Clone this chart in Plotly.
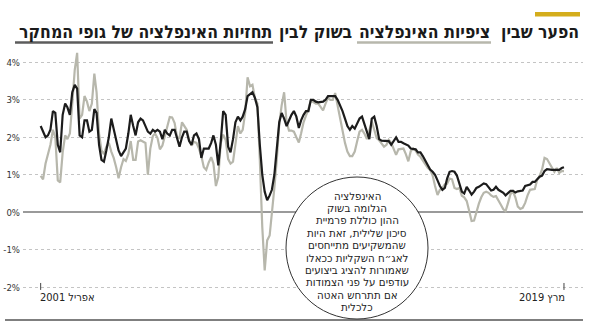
import pandas as pd
import plotly.graph_objects as go

# Monthly series, April 2001 - March 2019 (percent)
months = pd.date_range("2001-04-01", periods=216, freq="MS")

research_forecasts = [
    2.3, 2.15, 2.0, 2.05, 2.2, 2.7, 2.65, 1.8, 1.6, 2.6,
    2.9, 2.8, 2.6, 3.2, 3.4, 3.3, 2.05, 2.0, 2.45, 2.45,
    2.15, 2.2, 2.75, 2.65, 1.8, 1.4, 1.35, 1.65, 2.0, 2.5,
    2.2, 1.9, 1.65, 1.5, 1.6, 1.7, 2.1, 2.6, 2.3, 2.05,
    2.4, 2.5, 2.45, 2.3, 2.15, 2.1, 2.2, 2.15, 2.2, 2.15,
    1.95, 2.2, 2.1, 2.05, 2.2, 2.2, 1.95, 1.75, 2.0, 2.15,
    2.15, 1.9, 1.8, 2.05, 2.1, 1.95, 1.45, 1.7, 1.7, 1.7,
    1.85, 2.05, 1.8, 1.25, 1.9, 2.7, 2.6, 1.75, 1.6, 1.95,
    2.4, 2.55, 2.45, 2.55, 2.75, 3.1, 3.15, 3.2, 3.05, 2.8,
    1.8, 1.0, 0.55, 0.32, 0.45, 0.6, 1.0, 1.6, 2.4, 2.65,
    2.5, 2.3, 2.45, 2.6, 2.7, 2.55, 2.25, 2.45, 2.6, 2.7,
    2.7, 3.0, 3.0, 2.95, 2.93, 2.93, 2.95, 3.0, 3.1, 3.1,
    3.1, 3.1, 3.0, 2.87, 2.7, 2.5, 2.3, 2.2, 2.3, 2.23,
    2.35, 2.5, 2.55, 2.35, 2.15, 1.95, 2.5, 2.55, 2.3, 1.95,
    1.91, 1.91, 1.91, 1.9, 1.8, 1.9, 2.0, 1.88, 1.88, 1.84,
    1.8, 1.78, 1.7, 1.7, 1.68, 1.6, 1.6, 1.5, 1.38, 1.28,
    1.14, 1.08, 1.0, 0.85, 0.7, 0.6, 0.65, 0.9, 1.08, 1.1,
    1.08, 0.98, 0.77, 0.55, 0.5, 0.68, 0.58, 0.47, 0.55, 0.65,
    0.68, 0.72, 0.77, 0.75, 0.65, 0.58, 0.6, 0.68, 0.6, 0.57,
    0.52, 0.45, 0.52, 0.57, 0.57, 0.53, 0.56, 0.58, 0.58, 0.7,
    0.72, 0.74, 0.81, 0.81, 0.88, 0.95, 0.98, 1.1, 1.15, 1.13,
    1.13, 1.13, 1.13, 1.13, 1.18, 1.2,
]

market_expectations = [
    0.97, 0.88, 1.3, 1.55, 1.8, 2.2, 2.0, 0.85, 0.8, 1.6,
    2.05, 1.95, 2.1, 2.9, 3.8, 4.25, 2.5, 2.6, 3.1, 2.95,
    2.7, 2.9, 3.7, 3.2, 2.1, 1.65, 1.55, 1.75, 1.85, 1.62,
    1.45, 1.2, 0.91, 1.2, 1.42, 1.37, 1.55, 1.9, 1.4, 1.4,
    1.89, 1.92, 1.89, 1.85, 1.0, 1.7, 2.03, 2.1, 1.98, 1.68,
    1.78, 2.03, 2.32, 2.54, 2.53, 2.38, 2.0, 1.98, 2.4, 2.3,
    2.2, 1.93, 1.78, 1.88, 1.85, 1.7, 1.5, 1.2, 1.13, 1.33,
    1.47, 1.3, 0.7, 0.94, 1.85, 2.07, 1.93, 1.42, 1.3, 1.35,
    1.9, 2.3, 2.1, 2.2, 2.65, 3.6, 3.36, 3.4, 3.05, 2.9,
    1.4, -0.4, -1.55, -0.75, -0.62, -0.1, 0.65, 1.4, 2.35, 2.85,
    3.2, 2.4, 2.18, 2.18, 2.15, 2.0, 1.86, 2.1, 2.4, 2.58,
    2.75, 2.98, 2.94, 2.9, 2.9, 2.8, 2.72, 2.9, 3.05, 3.0,
    3.0, 3.18, 2.85, 2.5, 2.15, 1.85, 1.62, 1.5, 1.5, 1.62,
    1.9, 2.15, 2.2, 2.1, 1.95, 2.15, 2.42, 2.2, 1.98, 1.92,
    1.84, 1.75, 1.8, 1.93, 1.85, 1.68, 1.53, 1.68, 1.7, 1.7,
    1.55, 1.36, 1.63, 1.7, 1.64, 1.54, 1.48, 1.38, 1.28, 1.19,
    1.13, 0.98, 0.7, 0.46, 0.6, 0.65, 0.75, 0.76, 0.9, 0.88,
    0.65, 0.62, 0.65, 0.44, 0.4, 0.3, 0.05, -0.23, -0.22, 0.03,
    0.23, 0.4, 0.52, 0.55, 0.52, 0.45, 0.41, 0.43, 0.3, 0.2,
    0.08, 0.03, 0.25, 0.48, 0.56, 0.4, 0.15, 0.09, 0.12, 0.25,
    0.45, 0.6, 0.61, 0.62, 0.87, 0.97, 1.15, 1.45, 1.42, 1.3,
    1.2, 1.08, 1.18, 1.05, 1.1, 1.1,
]

y_ticks = [-2, -1, 0, 1, 2, 3, 4]
y_tick_labels = ["-2%", "-1%", "0%", "1%", "2%", "3%", "4%"]

title_parts = [
    "הפער שבין",
    "ציפיות האינפלציה",
    "בשוק לבין",
    "תחזיות האינפלציה של גופי המחקר",
]

note_lines = [
    "האינפלציה",
    "הגלומה בשוק",
    "ההון כוללת פרמיית",
    "סיכון שלילית, זאת היות",
    "שהמשקיעים מתייחסים",
    "לאג״ח השקליות ככאלו",
    "שאמורות להציג ביצועים",
    "עודפים על פני הצמודות",
    "אם תתרחש האטה",
    "כלכלית",
]

start_label = "2001 אפריל"
end_label = "2019 מרץ"

# ---- page geometry (pixels) ----
W, H = 590, 329
ML, MR, MT, MB = 23, 7, 45, 29
PW, PH = W - ML - MR, H - MT - MB


def px(x):
    return (x - ML) / PW


def py(y):
    return (H - MB - y) / PH


FONT = "DejaVu Sans Condensed"
GRAY = "#b7b7ac"
BLACK = "#1c1c1c"

fig = go.Figure()
fig.add_trace(go.Scatter(
    x=months, y=market_expectations, mode="lines",
    line=dict(color=GRAY, width=2.2), hoverinfo="skip", showlegend=False,
))
fig.add_trace(go.Scatter(
    x=months, y=research_forecasts, mode="lines",
    line=dict(color=BLACK, width=2.2), hoverinfo="skip", showlegend=False,
))

shapes = []
annotations = []

# gold accent bar
shapes.append(dict(type="rect", xref="paper", yref="paper",
                   x0=px(535), x1=px(580), y0=py(16.5), y1=py(12),
                   fillcolor="#d4ad1c", line=dict(width=0)))

# title, split into phrases so two of them can be underlined in series colours
title_right_edges = [580, 491, 353, 273]
for text, right in zip(title_parts, title_right_edges):
    annotations.append(dict(text=f"<b>{text}</b>", xref="paper", yref="paper",
                            x=px(right), y=py(32), xanchor="right", yanchor="middle",
                            showarrow=False, borderpad=0,
                            font=dict(family=FONT, size=17.5, color="#1a1a1a")))
shapes.append(dict(type="line", xref="paper", yref="paper",
                   x0=px(357), x1=px(491), y0=py(42.5), y1=py(42.5),
                   line=dict(color=GRAY, width=2.5)))
shapes.append(dict(type="line", xref="paper", yref="paper",
                   x0=px(15), x1=px(273), y0=py(42.5), y1=py(42.5),
                   line=dict(color="#5c5c5c", width=2.5)))

# date ticks standing on the lowest gridline
for d in (months[0], months[-1]):
    shapes.append(dict(type="line", xref="x", yref="y",
                       x0=d, x1=d, y0=-2.07, y1=-1.885,
                       line=dict(color="#444", width=1)))
annotations.append(dict(text=start_label, xref="x", yref="paper",
                        x=months[0], y=py(297.5), xanchor="left", yanchor="middle",
                        xshift=-3, showarrow=False,
                        font=dict(family=FONT, size=11, color="#222")))
annotations.append(dict(text=end_label, xref="x", yref="paper",
                        x=months[-1], y=py(297.5), xanchor="right", yanchor="middle",
                        xshift=3, showarrow=False,
                        font=dict(family=FONT, size=11, color="#222")))

# bottom rule
shapes.append(dict(type="line", xref="paper", yref="paper",
                   x0=px(5), x1=px(583), y0=py(320), y1=py(320),
                   line=dict(color="#555", width=1.5)))

# explanatory note in a circle
cx, cy, r = 357, 248, 71
shapes.append(dict(type="circle", xref="paper", yref="paper",
                   x0=px(cx - r), x1=px(cx + r), y0=py(cy + r), y1=py(cy - r),
                   fillcolor="white", line=dict(color="#333", width=1),
                   layer="above"))
first_line_y, line_step = 195.5, 12.4
for i, line in enumerate(note_lines):
    annotations.append(dict(text=line, xref="paper", yref="paper",
                            x=px(cx), y=py(first_line_y + i * line_step),
                            xanchor="center", yanchor="middle", showarrow=False,
                            borderpad=0,
                            font=dict(family="DejaVu Sans", size=10.3, color="#222")))

x_left = pd.Timestamp("2000-08-23")
x_right = pd.Timestamp("2019-10-25")

fig.update_layout(
    width=W, height=H,
    margin=dict(l=ML, r=MR, t=MT, b=MB, pad=0, autoexpand=False),
    paper_bgcolor="white", plot_bgcolor="white",
    shapes=shapes, annotations=annotations,
    xaxis=dict(range=[x_left, x_right], showgrid=False, zeroline=False,
               showticklabels=False, ticks="", showline=False, automargin=False),
    yaxis=dict(range=[-2.339, 4.461], tickvals=y_ticks, ticktext=y_tick_labels,
               showgrid=True, gridcolor="#c4c4c4", griddash="dot", gridwidth=1,
               zeroline=True, zerolinecolor="#9a9a9a", zerolinewidth=1.5,
               showline=False, ticks="", ticklabelstandoff=2, automargin=False,
               tickfont=dict(family=FONT, size=9.5, color="#333")),
)

fig.write_html("out.html")
